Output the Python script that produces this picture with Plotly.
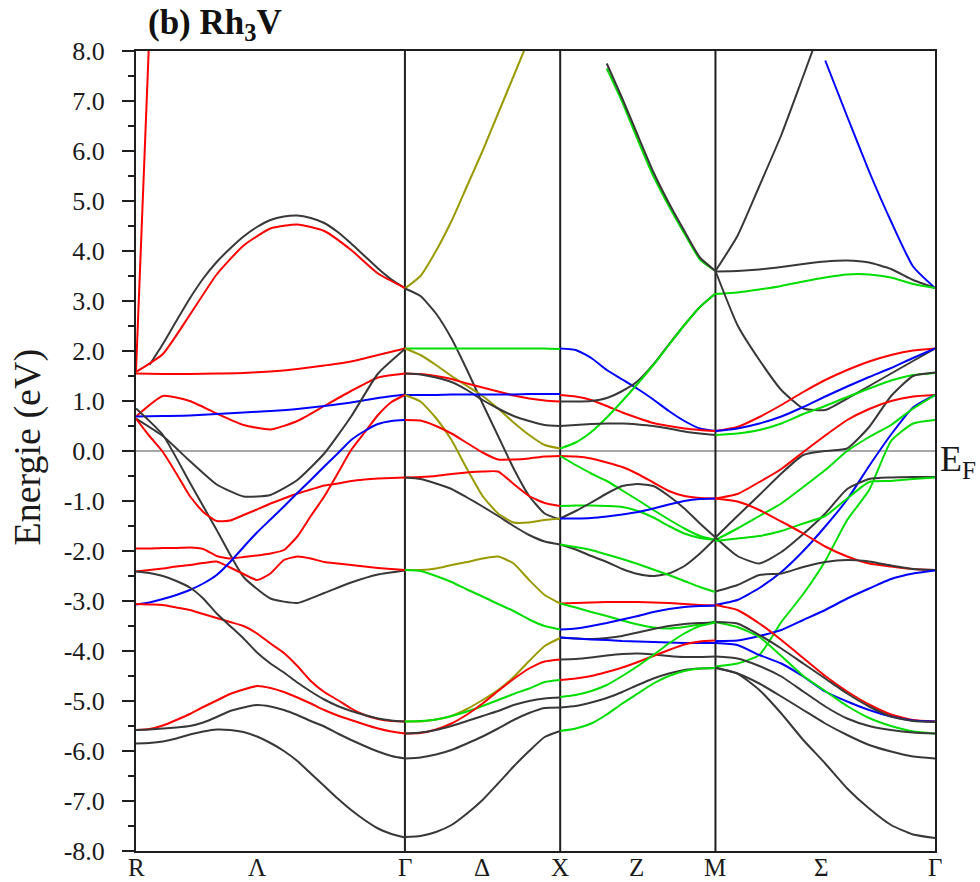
import plotly.graph_objects as go

# ---- k-path (units of 2*pi/a) ----
k_R, k_G1, k_X, k_M, k_G2 = 0.0, 0.866, 1.366, 1.866, 2.573
sym_lines = [k_G1, k_X, k_M]
k_tick_pos = [0.0, 0.39, 0.866, 1.114, 1.366, 1.613, 1.866, 2.209, 2.573]
k_tick_text = ["R", "Λ", "Γ", "Δ", "X", "Z", "M", "Σ", "Γ"]

e_tick_vals = [8, 7, 6, 5, 4, 3, 2, 1, 0, -1, -2, -3, -4, -5, -6, -7, -8]
e_tick_text = ["8.0", "7.0", "6.0", "5.0", "4.0", "3.0", "2.0", "1.0", "0.0",
               "-1.0", "-2.0", "-3.0", "-4.0", "-5.0", "-6.0", "-7.0", "-8.0"]

RED, BLK, BLU, GRN, OLV = "#ff0000", "#383838", "#0000ff", "#00dd00", "#9a9a00"
N = None

# ---- R -> Gamma ----
rg_bands = [
    (RED, [1.6, 8.4] + [N] * 19),
    (BLK, [N, 1.72, 2.14, 2.6, 3.05, 3.45, 3.78, 4.05, 4.29, 4.48, 4.62, 4.69, 4.71,
           4.66, 4.56, 4.38, 4.15, 3.9, 3.65, 3.43, 3.26]),
    (RED, [1.58, 1.94, 2.72, 3.53, 4.11, 4.45, 4.53, 4.4, 4.02, 3.55, 3.26]),
    (RED, [1.55, 1.54, 1.54, 1.55, 1.56, 1.59, 1.64, 1.71, 1.79, 1.92, 2.05]),
    (RED, [0.69, 1.1, 1.0, 0.75, 0.52, 0.43, 0.6, 0.9, 1.2, 1.47, 1.55]),
    (BLU, [0.69, 0.7, 0.71, 0.74, 0.77, 0.8, 0.84, 0.9, 0.97, 1.06, 1.13]),
    (BLK, [0.65, 0.3, -0.2, -0.67, -0.91, -0.88, -0.58, -0.05, 0.69, 1.55, 2.04]),
    (BLK, [0.85, 0.32, -0.63, -1.58, -2.52, -2.95, -3.04, -2.84, -2.63, -2.47, -2.39]),
    (RED, [-1.95, -1.95, -1.94, -1.94, -1.93, -1.96, -2.1, -2.15, -2.12, -2.09, -2.05,
           -1.98, -1.71, -1.3, -0.91, -0.45, 0.02, 0.37, 0.72, 0.98, 1.12]),
    (RED, [-2.41, -2.38, -2.35, -2.31, -2.28, -2.24, -2.21, -2.33, -2.46, -2.58, -2.45,
           -2.18, -2.11, -2.15, -2.22, -2.25, -2.28, -2.31, -2.34, -2.36, -2.38]),
    (RED, [0.65, 0.3, -0.02, -0.45, -0.9, -1.22, -1.4, -1.39, -1.28, -1.17, -1.05,
           -0.95, -0.85, -0.77, -0.69, -0.65, -0.6, -0.57, -0.55, -0.54, -0.53]),
    (BLU, [-3.07, -3.03, -2.96, -2.88, -2.78, -2.65, -2.48, -2.22, -1.92, -1.63, -1.37,
           -1.11, -0.84, -0.58, -0.31, -0.05, 0.22, 0.4, 0.54, 0.6, 0.62]),
    (RED, [-3.06, -3.07, -3.08, -3.13, -3.18, -3.26, -3.34, -3.42, -3.5, -3.65, -3.85,
           -4.04, -4.3, -4.6, -4.82, -4.98, -5.15, -5.28, -5.36, -5.4, -5.41]),
    (BLK, [-2.41, -2.44, -2.5, -2.6, -2.73, -2.95, -3.25, -3.5, -3.75, -4.03, -4.25,
           -4.43, -4.63, -4.81, -4.97, -5.1, -5.2, -5.28, -5.35, -5.39, -5.41]),
    (RED, [-5.58, -5.56, -5.49, -5.38, -5.26, -5.12, -4.99, -4.86, -4.77, -4.7, -4.74,
           -4.82, -4.93, -5.05, -5.18, -5.29, -5.38, -5.47, -5.55, -5.61, -5.65]),
    (BLK, [-5.58, -5.57, -5.55, -5.53, -5.5, -5.43, -5.32, -5.2, -5.13, -5.08, -5.11,
           -5.18, -5.28, -5.4, -5.51, -5.65, -5.78, -5.9, -6.01, -6.1, -6.15]),
    (BLK, [-5.85, -5.84, -5.81, -5.75, -5.67, -5.61, -5.57, -5.58, -5.62, -5.71, -5.84,
           -6.0, -6.2, -6.45, -6.7, -6.95, -7.18, -7.38, -7.55, -7.66, -7.73]),
]

# ---- Gamma -> X ----
gx_bands = [
    (OLV, [3.25, 3.5, 4.0, 4.6, 5.3, 6.0, 6.75, 7.5, 8.25, N, N]),
    (BLK, [3.25, 3.1, 2.75, 2.25, 1.62, 0.95, 0.3, -0.35, -0.9, -1.25, -1.37]),
    (GRN, [2.05, 2.05, 2.05, 2.05, 2.05, 2.05, 2.05, 2.05, 2.05, 2.05, 2.04]),
    (OLV, [2.05, 1.92, 1.72, 1.5, 1.3, 1.1, 0.85, 0.57, 0.32, 0.12, 0.05]),
    (RED, [1.55, 1.54, 1.5, 1.44, 1.35, 1.27, 1.19, 1.11, 1.05, 1.01, 0.99]),
    (BLK, [1.55, 1.53, 1.47, 1.38, 1.22, 1.02, 0.85, 0.7, 0.6, 0.52, 0.5]),
    (BLU, [1.12, 1.12, 1.12, 1.13, 1.13, 1.13, 1.13, 1.13, 1.14, 1.14, 1.14]),
    (OLV, [1.12, 0.99, 0.66, 0.22, -0.36, -0.9, -1.25, -1.43, -1.43, -1.38, -1.35]),
    (RED, [0.62, 0.61, 0.5, 0.35, 0.16, -0.03, -0.17, -0.17, -0.15, -0.11, -0.1]),
    (RED, [-0.53, -0.52, -0.5, -0.46, -0.43, -0.41, -0.41, -0.66, -0.9, -1.04, -1.1]),
    (BLK, [-0.53, -0.56, -0.65, -0.76, -0.93, -1.11, -1.3, -1.5, -1.68, -1.81, -1.87]),
    (OLV, [-2.38, -2.38, -2.35, -2.28, -2.22, -2.15, -2.11, -2.25, -2.58, -2.88, -3.05]),
    (GRN, [-2.38, -2.4, -2.5, -2.62, -2.77, -2.91, -3.06, -3.2, -3.37, -3.5, -3.57]),
    (OLV, [-5.41, -5.41, -5.37, -5.3, -5.16, -4.98, -4.78, -4.52, -4.2, -3.9, -3.74]),
    (GRN, [-5.41, -5.4, -5.37, -5.3, -5.21, -5.1, -4.98, -4.86, -4.75, -4.62, -4.58]),
    (RED, [-5.65, -5.64, -5.57, -5.45, -5.27, -5.05, -4.8, -4.56, -4.35, -4.21, -4.17]),
    (BLK, [-5.65, -5.63, -5.58, -5.5, -5.4, -5.3, -5.2, -5.08, -5.0, -4.95, -4.93]),
    (BLK, [-6.15, -6.13, -6.07, -5.98, -5.85, -5.71, -5.55, -5.38, -5.24, -5.14, -5.13]),
    (BLK, [-7.72, -7.7, -7.62, -7.48, -7.25, -6.98, -6.65, -6.31, -6.0, -5.72, -5.6]),
]

# ---- X -> M ----
xm_bands = [
    (GRN, [N, N, N, 7.65, 6.98, 6.22, 5.5, 4.9, 4.35, 3.83, 3.6]),
    (BLK, [N, N, N, 7.75, 7.05, 6.31, 5.58, 4.96, 4.4, 3.87, 3.6]),
    (BLU, [2.05, 2.02, 1.86, 1.62, 1.43, 1.24, 1.03, 0.8, 0.6, 0.45, 0.4]),
    (RED, [1.12, 1.09, 1.02, 0.9, 0.77, 0.66, 0.56, 0.5, 0.45, 0.42, 0.4]),
    (BLK, [0.99, 0.99, 1.0, 1.06, 1.2, 1.4, 1.73, 2.13, 2.52, 2.88, 3.15]),
    (GRN, [0.05, 0.17, 0.38, 0.67, 1.0, 1.35, 1.72, 2.12, 2.52, 2.88, 3.15]),
    (BLK, [0.5, 0.52, 0.54, 0.55, 0.55, 0.53, 0.5, 0.45, 0.39, 0.35, 0.32]),
    (RED, [-0.1, -0.11, -0.15, -0.23, -0.32, -0.46, -0.63, -0.8, -0.9, -0.94, -0.95]),
    (GRN, [-0.1, -0.28, -0.45, -0.6, -0.79, -0.98, -1.18, -1.37, -1.55, -1.7, -1.78]),
    (GRN, [-1.1, -1.09, -1.09, -1.1, -1.12, -1.2, -1.33, -1.5, -1.65, -1.74, -1.78]),
    (BLK, [-1.35, -1.2, -1.03, -0.85, -0.7, -0.66, -0.7, -0.9, -1.15, -1.45, -1.73]),
    (BLU, [-1.35, -1.35, -1.34, -1.31, -1.27, -1.22, -1.15, -1.07, -1.0, -0.96, -0.95]),
    (BLK, [-1.87, -1.97, -2.1, -2.22, -2.36, -2.46, -2.5, -2.45, -2.3, -2.05, -1.75]),
    (GRN, [-1.87, -1.92, -1.98, -2.07, -2.16, -2.26, -2.37, -2.48, -2.6, -2.72, -2.82]),
    (RED, [-3.05, -3.04, -3.03, -3.02, -3.02, -3.02, -3.03, -3.04, -3.06, -3.08, -3.09]),
    (GRN, [-3.05, -3.13, -3.22, -3.3, -3.39, -3.47, -3.53, -3.55, -3.52, -3.47, -3.41]),
    (BLU, [-3.57, -3.55, -3.5, -3.44, -3.37, -3.3, -3.22, -3.16, -3.12, -3.1, -3.09]),
    (BLK, [-3.73, -3.75, -3.76, -3.74, -3.7, -3.63, -3.56, -3.5, -3.46, -3.44, -3.43]),
    (BLU, [-3.73, -3.75, -3.77, -3.78, -3.8, -3.81, -3.82, -3.83, -3.84, -3.84, -3.84]),
    (BLK, [-4.17, -4.16, -4.13, -4.09, -4.06, -4.05, -4.07, -4.1, -4.12, -4.12, -4.11]),
    (RED, [-4.58, -4.55, -4.5, -4.42, -4.33, -4.22, -4.1, -3.98, -3.87, -3.81, -3.79]),
    (GRN, [-4.92, -4.88, -4.8, -4.68, -4.5, -4.3, -4.08, -3.85, -3.65, -3.5, -3.43]),
    (BLK, [-5.13, -5.1, -5.03, -4.94, -4.82, -4.68, -4.55, -4.45, -4.38, -4.35, -4.34]),
    (GRN, [-5.6, -5.55, -5.45, -5.27, -5.05, -4.85, -4.65, -4.5, -4.4, -4.35, -4.34]),
]

# ---- M -> Gamma ----
mg_bands = [
    (BLK, [3.6, 4.3, 5.3, 6.32, 7.5, 8.7, N, N, N, N, N]),
    (BLU, [N, N, N, N, N, 7.81, 6.69, 5.59, 4.59, 3.69, 3.26]),
    (BLK, [3.59, 3.6, 3.63, 3.68, 3.74, 3.79, 3.81, 3.77, 3.64, 3.42, 3.26]),
    (GRN, [3.14, 3.17, 3.23, 3.3, 3.39, 3.47, 3.53, 3.53, 3.47, 3.34, 3.26]),
    (BLK, [3.6, 2.52, 1.82, 1.22, 0.85, 0.82, 1.05, 1.3, 1.55, 1.8, 2.05]),
    (RED, [0.4, 0.48, 0.68, 0.92, 1.18, 1.42, 1.62, 1.79, 1.92, 2.01, 2.05]),
    (BLU, [0.4, 0.45, 0.55, 0.69, 0.88, 1.09, 1.29, 1.48, 1.66, 1.86, 2.05]),
    (GRN, [0.32, 0.35, 0.42, 0.55, 0.74, 0.9, 1.08, 1.25, 1.41, 1.52, 1.56]),
    (BLK, [-1.73, -1.3, -0.88, -0.45, -0.08, 0.0, 0.05, 0.48, 1.1, 1.5, 1.57]),
    (RED, [-0.95, -0.86, -0.62, -0.36, -0.02, 0.31, 0.62, 0.84, 1.0, 1.09, 1.12]),
    (BLU, [-3.08, -2.98, -2.74, -2.42, -2.0, -1.51, -0.97, -0.3, 0.33, 0.87, 1.12]),
    (GRN, [-1.78, -1.55, -1.3, -1.05, -0.72, -0.38, 0.0, 0.28, 0.52, 0.85, 1.12]),
    (GRN, [-4.31, -4.25, -4.08, -3.42, -2.86, -2.2, -1.38, -0.78, 0.2, 0.55, 0.62]),
    (BLK, [-1.73, -2.1, -2.25, -2.02, -1.66, -1.25, -0.76, -0.56, -0.53, -0.52, -0.52]),
    (GRN, [-1.8, -1.75, -1.7, -1.6, -1.45, -1.3, -0.95, -0.62, -0.6, -0.56, -0.53]),
    (RED, [-0.95, -1.01, -1.18, -1.41, -1.65, -1.91, -2.11, -2.25, -2.31, -2.36, -2.38]),
    (BLK, [-2.81, -2.68, -2.48, -2.45, -2.32, -2.22, -2.18, -2.21, -2.29, -2.36, -2.38]),
    (BLU, [-3.8, -3.79, -3.7, -3.58, -3.38, -3.18, -2.95, -2.75, -2.56, -2.45, -2.39]),
    (RED, [-3.08, -3.18, -3.45, -3.78, -4.14, -4.5, -4.81, -5.07, -5.27, -5.38, -5.41]),
    (BLU, [-3.84, -3.88, -4.08, -4.25, -4.51, -4.81, -5.01, -5.18, -5.31, -5.39, -5.41]),
    (GRN, [-3.42, -3.52, -3.72, -4.1, -4.5, -4.8, -5.1, -5.34, -5.5, -5.61, -5.65]),
    (BLK, [-3.42, -3.45, -3.68, -3.95, -4.25, -4.55, -4.85, -5.11, -5.31, -5.4, -5.42]),
    (BLK, [-4.11, -4.15, -4.3, -4.51, -4.81, -5.11, -5.35, -5.5, -5.58, -5.63, -5.65]),
    (BLK, [-4.33, -4.45, -4.65, -4.91, -5.18, -5.45, -5.68, -5.88, -6.01, -6.11, -6.15]),
    (BLK, [-4.34, -4.45, -4.78, -5.25, -5.78, -6.25, -6.75, -7.15, -7.48, -7.67, -7.74]),
]

segments = [
    (k_R, k_G1, rg_bands),
    (k_G1, k_X, gx_bands),
    (k_X, k_M, xm_bands),
    (k_M, k_G2, mg_bands),
]

FONT = "Liberation Serif"
TXT = "#1a1a1a"
AX = "#1e1e1e"

fig = go.Figure()
for k0, k1, bands in segments:
    for color, vals in bands:
        n = len(vals)
        xs = [k0 + (k1 - k0) * i / (n - 1) for i in range(n)]
        fig.add_trace(go.Scatter(
            x=xs, y=vals, mode="lines",
            line=dict(color=color, width=2, shape="spline", smoothing=0.5),
            hoverinfo="skip", showlegend=False,
        ))

shapes = [dict(type="line", xref="paper", yref="y", x0=0, x1=1, y0=0, y1=0,
               line=dict(color="#8a8a8a", width=1.5), layer="below")]
for kx in sym_lines:
    shapes.append(dict(type="line", xref="x", yref="paper", x0=kx, x1=kx, y0=0, y1=1,
                       line=dict(color=AX, width=2), layer="below"))

# k-point labels under the axis
annotations = [
    dict(text=lab, xref="x", yref="paper", x=kp, y=0, yshift=-1,
         xanchor="center", yanchor="top", showarrow=False,
         font=dict(family=FONT, size=25, color=TXT))
    for kp, lab in zip(k_tick_pos, k_tick_text)
]
annotations += [
    dict(text="<b>(b) Rh<sub>3</sub>V</b>", xref="paper", yref="paper",
         x=0.012, y=1.033, xanchor="left", yanchor="middle", showarrow=False,
         font=dict(family=FONT, size=35, color="#111")),
    dict(text="Energie (eV)", xref="paper", yref="paper",
         x=-0.137, y=0.505, xanchor="center", yanchor="middle", textangle=-90,
         showarrow=False, font=dict(family=FONT, size=38, color=TXT)),
    dict(text="E<sub>F</sub>", xref="paper", yref="paper",
         x=1.004, y=0.487, xanchor="left", yanchor="middle", showarrow=False,
         font=dict(family=FONT, size=36, color=TXT)),
]

fig.update_layout(
    width=980, height=882,
    margin=dict(l=136, r=45, t=51, b=31),
    paper_bgcolor="white", plot_bgcolor="white",
    shapes=shapes,
    font=dict(family=FONT, color=TXT),
    xaxis=dict(range=[k_R, k_G2], showgrid=False, zeroline=False, automargin=False,
               showline=True, linecolor=AX, linewidth=2, mirror=True,
               showticklabels=False, ticks=""),
    yaxis=dict(range=[-8, 8], showgrid=False, zeroline=False, automargin=False,
               showline=True, linecolor=AX, linewidth=2, mirror=True,
               tickvals=e_tick_vals, ticktext=e_tick_text,
               ticks="outside", ticklen=12, tickwidth=2, tickcolor=AX,
               ticklabelstandoff=12,
               minor=dict(dtick=0.5, ticks="outside", ticklen=6, tickwidth=2,
                          tickcolor=AX),
               tickfont=dict(family=FONT, size=26, color=TXT)),
    annotations=annotations,
)

fig.write_html("out.html")
